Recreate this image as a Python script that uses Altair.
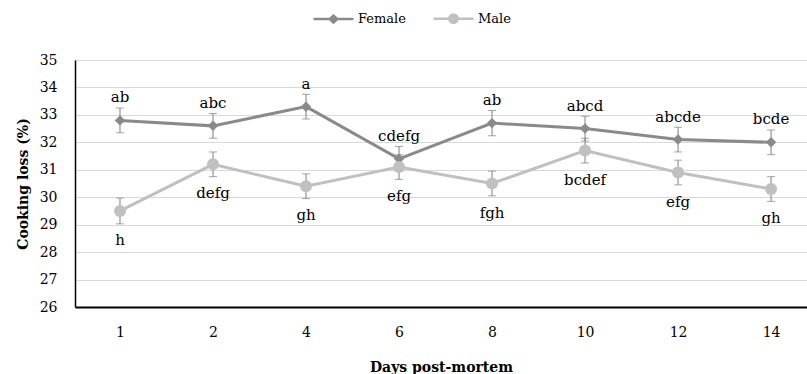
import altair as alt
import pandas as pd

# ---------------- data ----------------
days = ["1", "2", "4", "6", "8", "10", "12", "14"]
series = ["Female", "Male"]
female_mean = [32.8, 32.6, 33.3, 31.4, 32.7, 32.5, 32.1, 32.0]
female_err = [0.45, 0.45, 0.45, 0.45, 0.46, 0.45, 0.45, 0.45]
male_mean = [29.5, 31.2, 30.4, 31.1, 30.5, 31.7, 30.9, 30.3]
male_err = [0.47, 0.45, 0.45, 0.45, 0.45, 0.45, 0.45, 0.45]
female_letters = ["ab", "abc", "a", "cdefg", "ab", "abcd", "abcde", "bcde"]
male_letters = ["h", "defg", "gh", "efg", "fgh", "bcdef", "efg", "gh"]
y_ticks = [26, 27, 28, 29, 30, 31, 32, 33, 34, 35]

colors = ["#8a8a8a", "#c0c0c0"]
err_color = "#7f7f7f"
FONT = "DejaVu Serif"

rows = []
for s, means, errs, letters in [
    ("Female", female_mean, female_err, female_letters),
    ("Male", male_mean, male_err, male_letters),
]:
    for i, (d, m, e, l) in enumerate(zip(days, means, errs, letters)):
        rows.append({"day": d, "idx": i, "sex": s, "mean": m, "low": m - e, "high": m + e, "letter": l})
df = pd.DataFrame(rows)

x_axis = alt.Axis(
    title="Days post-mortem",
    labelAngle=0,
    ticks=False,
    grid=False,
    domainColor="#000000",
    domainWidth=2,
    labelPadding=18,
    labelFont=FONT,
    labelFontSize=14,
    labelColor="#000000",
    titleFont=FONT,
    titleFontSize=14,
    titleFontWeight="bold",
    titleColor="#000000",
    titlePadding=21,
)
x_scale = alt.Scale(type="point", domain=days, padding=0.435, align=0.556)
y_scale = alt.Scale(domain=[26, 35], nice=False, zero=False)
y_axis = alt.Axis(
    title="Cooking loss (%)",
    values=y_ticks,
    ticks=False,
    grid=True,
    gridColor="#d9d9d9",
    gridWidth=1,
    domainColor="#000000",
    domainWidth=1.5,
    labelPadding=18,
    labelFont=FONT,
    labelFontSize=14,
    labelColor="#000000",
    titleFont=FONT,
    titleFontSize=14,
    titleFontWeight="bold",
    titleColor="#000000",
    titlePadding=9,
)


def X():
    return alt.X("day:O", scale=x_scale, axis=x_axis)


def Y(field):
    return alt.Y(field + ":Q", scale=y_scale, axis=y_axis)


base = alt.Chart(df)
layers = []

# lines (one per series, constant colour)
for s, c in zip(series, colors):
    layers.append(
        base.transform_filter(alt.datum.sex == s)
        .mark_line(strokeWidth=3, color=c)
        .encode(x=X(), y=Y("mean"), order=alt.Order("idx:Q"))
    )

# error bars
layers.append(base.mark_rule(color=err_color, strokeWidth=1).encode(x=X(), y=Y("low"), y2="high:Q"))
layers.append(base.mark_tick(color=err_color, size=8, thickness=1, orient="horizontal").encode(x=X(), y=Y("low")))
layers.append(base.mark_tick(color=err_color, size=8, thickness=1, orient="horizontal").encode(x=X(), y=Y("high")))

# markers
marker_shapes = ["diamond", "circle"]
marker_sizes = [110, 144]
for s, c, sh, sz in zip(series, colors, marker_shapes, marker_sizes):
    layers.append(
        base.transform_filter(alt.datum.sex == s)
        .mark_point(shape=sh, filled=True, size=sz, opacity=1, color=c)
        .encode(x=X(), y=Y("mean"))
    )

# letters
label_dy = [-23, 29]
for s, dy in zip(series, label_dy):
    layers.append(
        base.transform_filter(alt.datum.sex == s)
        .mark_text(dy=dy, font=FONT, fontSize=15, color="#000000", baseline="middle")
        .encode(x=X(), y=Y("mean"), text="letter:N")
    )

# legend-only layer (invisible marks, legend symbols = line + marker)
legend_paths = [
    "M-1,0H1M0,-0.17L0.19,0L0,0.17L-0.19,0Z",
    "M-1,0H1M0.21,0A0.21,0.21,0,1,1,-0.21,0A0.21,0.21,0,1,1,0.21,0Z",
]
leg = alt.Legend(
    title=None,
    orient="none",
    direction="horizontal",
    legendX=237,
    legendY=-63,
    symbolSize=1600,
    symbolStrokeWidth=2.5,
    symbolOpacity=1,
    labelFont=FONT,
    labelFontSize=13,
    labelColor="#000000",
    labelOffset=3,
    columnPadding=22,
    padding=0,
)
layers.append(
    base.mark_point(filled=True, opacity=0).encode(
        x=X(),
        y=Y("mean"),
        shape=alt.Shape("sex:N", scale=alt.Scale(domain=series, range=legend_paths), legend=leg),
        fill=alt.Fill("sex:N", scale=alt.Scale(domain=series, range=colors), legend=leg),
        stroke=alt.Stroke("sex:N", scale=alt.Scale(domain=series, range=colors), legend=leg),
    )
)

chart = (
    alt.layer(*layers)
    .properties(
        width=732,
        height=247,
        autosize=alt.AutoSizeParams(type="none"),
        padding={"left": 75, "top": 60, "right": 0, "bottom": 67},
        background="#ffffff",
    )
    .configure_view(stroke=None)
)

chart.save("out.html", embed_options={"renderer": "svg", "actions": False})
